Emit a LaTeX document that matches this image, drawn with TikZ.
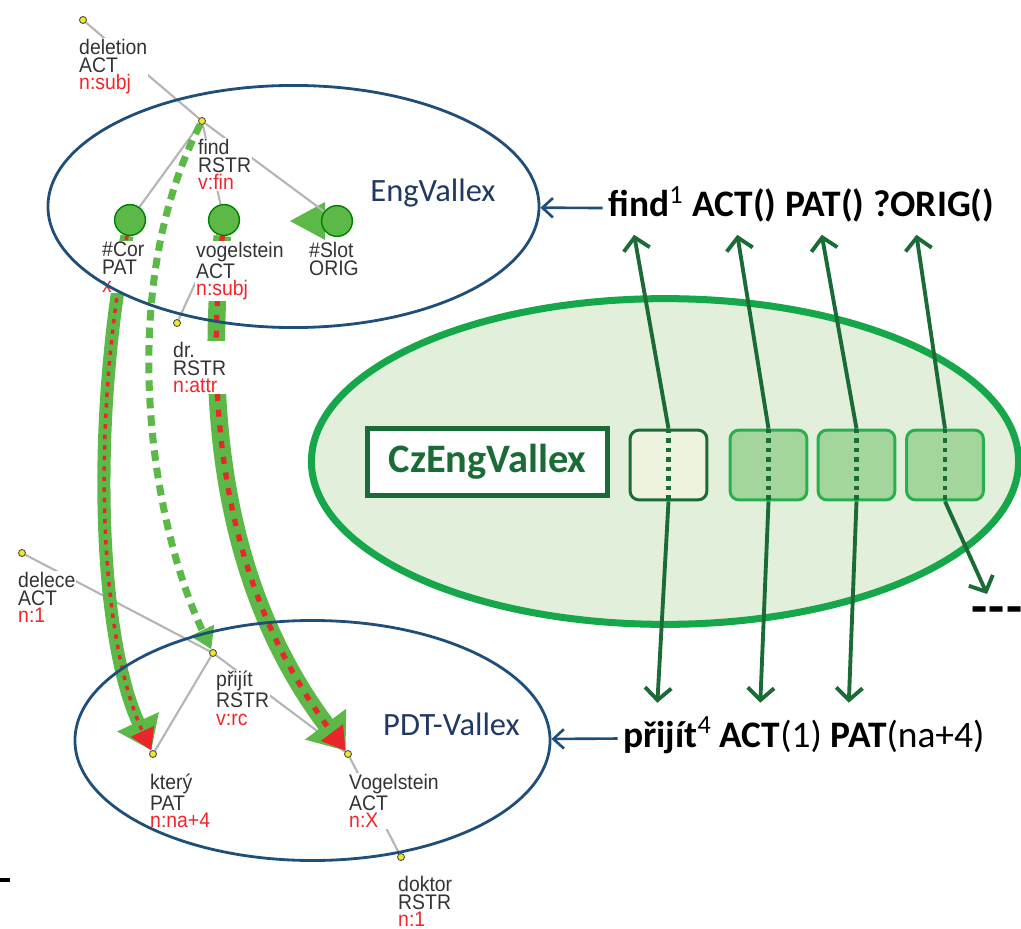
\documentclass[tikz,border=0pt]{standalone}
\usepackage{fontspec}
\newfontfamily\calib{Carlito}
\newfontfamily\treefont[FakeStretch=0.92]{Liberation Sans}
\usetikzlibrary{shapes.geometric,arrows.meta,positioning}

\definecolor{navy}{HTML}{1F4E79}
\definecolor{navytext}{HTML}{1F3864}
\definecolor{flowgreen}{HTML}{5CB947}
\definecolor{flowred}{HTML}{E8262B}
\definecolor{linkgreen}{HTML}{1A6B35}
\definecolor{vgreen}{HTML}{16A74A}
\definecolor{vfill}{HTML}{E2EFDA}
\definecolor{boxfill}{HTML}{A3D59C}
\definecolor{boxedge}{HTML}{28B04F}
\definecolor{paleframe}{HTML}{EEF3E0}
\definecolor{labgray}{HTML}{333333}
\definecolor{labred}{HTML}{F0262B}
\definecolor{dotyellow}{HTML}{F2E62B}
\definecolor{edgegray}{HTML}{B5B5B5}

\pgfdeclarelayer{back}
\pgfdeclarelayer{front}
\pgfsetlayers{back,main,front}

\tikzset{
  tdot/.style={circle, fill=dotyellow, draw=black!70, line width=0.5pt, minimum size=4pt, inner sep=0pt},
  gdot/.style={circle, fill=flowgreen, draw=black!50!green, line width=0.8pt, minimum size=17.5pt, inner sep=0pt},
  tlab/.style={anchor=north west, align=left, inner sep=0.5pt, fill=white, text=labgray, font=\treefont\fontsize{12}{10}\selectfont},
  tedge/.style={draw=edgegray, line width=1.2pt},
  vallex/.style={ellipse, draw=navy, line width=1.6pt, inner sep=0pt},
  vname/.style={anchor=base, text=navytext, font=\calib\fontsize{18.5}{22}\selectfont},
  cword/.style={inner sep=0pt, text height=15pt, text depth=5pt, font=\calib\fontsize{21.3}{24}\selectfont},
  slotbox/.style={rounded corners=5pt, line width=1.7pt, minimum width=43.7pt, minimum height=39.7pt, inner sep=0pt},
  boxdots/.style={draw=linkgreen, line width=2.8pt, dash pattern=on 2.6pt off 2.8pt},
  link/.style={draw=linkgreen, line width=2.2pt, -{Straight Barb[length=7pt,width=15pt]}},
  up/.style={shorten >=5pt},
  down/.style={shorten >=10pt},
  toframe/.style={draw=navy, line width=1.5pt, -{Straight Barb[length=6pt,width=11pt]}, shorten <=3pt}
}

\begin{document}
\begin{tikzpicture}[x=0.02cm, y=-0.02cm]
\useasboundingbox (0,0) rectangle (1021,929);

% tree nodes
\begin{pgfonlayer}{front}
  \node[tdot] (deletion) at (83,20) {};
  \node[tdot] (find) at (202,121) {};
  \node[gdot] (cor) at (130,220) {};
  \node[gdot] (vogelstein) at (224,220) {};
  \node[gdot] (slot) at (337,221) {};
  \node[tdot] (dr) at (177,323) {};
  \node[tdot] (delece) at (22,553) {};
  \node[tdot] (prijit) at (213,653) {};
  \node[tdot] (ktery) at (153,754) {};
  \node[tdot] (Vogelstein) at (348,754) {};
  \node[tdot] (doktor) at (401,857) {};
\end{pgfonlayer}

\begin{pgfonlayer}{back}
  \node[ellipse, draw=vgreen, fill=vfill, line width=4pt, minimum width=402.5pt, minimum height=185.4pt] (czeng) at (665,461.5) {};
  \fill[flowgreen] (325,202) -- (290,221) -- (325,240) -- cycle;
  % tree edges
  \draw[tedge] (deletion) -- (find);
  \draw[tedge] (find) -- (cor);
  \draw[tedge] (find) -- (vogelstein);
  \draw[tedge] (find) -- (slot);
  \draw[tedge] (vogelstein) -- (dr);
  \draw[tedge] (delece) -- (prijit);
  \draw[tedge] (prijit) -- (ktery);
  \draw[tedge] (prijit) -- (Vogelstein);
  \draw[tedge] (Vogelstein) -- (doktor);
  % alignment flows
  \draw[draw=flowgreen, line width=7.5pt, -{Triangle[length=18pt,width=25pt]}] (cor) .. controls (90,430) and (100,640) .. (ktery);
  \draw[draw=flowred, line width=2pt, dash pattern=on 2.5pt off 3.5pt, -{Triangle[length=12pt,width=14pt]}] (cor) .. controls (90,430) and (100,640) .. (ktery);
  \draw[draw=flowgreen, line width=4pt, dash pattern=on 6pt off 4pt, -{Triangle[length=12pt,width=14pt]}] (find) .. controls (115,290) and (150,520) .. (prijit);
  \draw[draw=flowgreen, line width=10pt, -{Triangle[length=19pt,width=28pt]}] (vogelstein) .. controls (200,450) and (240,610) .. (Vogelstein);
  \draw[draw=flowred, line width=3pt, dash pattern=on 4pt off 5pt, -{Triangle[length=13pt,width=15pt]}] (vogelstein) .. controls (200,450) and (240,610) .. (Vogelstein);
\end{pgfonlayer}

% tree labels
\node[tlab] (ldeletion) at (78,38) {deletion\\ACT\\\textcolor{labred}{n:subj}};
\node[tlab] (lfind) at (197,138) {find\\RSTR\\\textcolor{labred}{v:fin}};
\node[tlab] (lcor) at (101,241) {\#Cor\\PAT\\\textcolor{labred}{x}};
\node[tlab] (lvogelstein) at (195,241) {vogelstein\\ACT\\\textcolor{labred}{n:subj}};
\node[tlab] (lslot) at (308,241) {\#Slot\\ORIG};
\node[tlab] (ldr) at (172,341) {dr.\\RSTR\\\textcolor{labred}{n:attr}};
\node[tlab] (ldelece) at (17,571) {delece\\ACT\\\textcolor{labred}{n:1}};
\node[tlab] (lprijit) at (215,670) {přijít\\RSTR\\\textcolor{labred}{v:rc}};
\node[tlab] (lktery) at (149,773) {který\\PAT\\\textcolor{labred}{n:na+4}};
\node[tlab] (lVogelstein) at (348,773) {Vogelstein\\ACT\\\textcolor{labred}{n:X}};
\node[tlab] (ldoktor) at (397,875) {doktor\\RSTR\\\textcolor{labred}{n:1}};

% lexicons
\node[vallex, minimum width=279.5pt, minimum height=137.8pt] (eng) at (293.5,206.5) {};
\node[vname] (engname) at (433,202) {EngVallex};
\node[vallex, minimum width=270.4pt, minimum height=136.6pt] (pdt) at (312.5,740.5) {};
\node[vname] (pdtname) at (451.5,735) {PDT-Vallex};

\node[draw=linkgreen, line width=2.8pt, fill=white, minimum width=136.6pt, minimum height=38.6pt, text=linkgreen, font=\calib\bfseries\fontsize{23}{26}\selectfont] (czname) at (487.5,462) {CzEngVallex};
\node[slotbox, fill=paleframe, draw=linkgreen] (verbbox) at (668.5,465) {};
\node[slotbox, fill=boxfill, draw=boxedge] (actbox) at (768.5,465) {};
\node[slotbox, fill=boxfill, draw=boxedge] (patbox) at (856.5,465) {};
\node[slotbox, fill=boxfill, draw=boxedge] (origbox) at (945,465) {};
\draw[boxdots] (verbbox.north) -- (verbbox.south);
\draw[boxdots] (actbox.north) -- (actbox.south);
\draw[boxdots] (patbox.north) -- (patbox.south);
\draw[boxdots] (origbox.north) -- (origbox.south);

% frames
\node[cword, anchor=base west] (efind) at (608,217) {\textbf{find\textsuperscript{\mdseries 1}}};
\node[cword, base right=4.7pt of efind] (eact) {\textbf{ACT()}};
\node[cword, base right=4.7pt of eact] (epat) {\textbf{PAT()}};
\node[cword, base right=4.7pt of epat] (eorig) {\textbf{?ORIG()}};
\node[cword, anchor=base west] (cprijit) at (623,747) {\textbf{přijít}\textsuperscript{4}};
\node[cword, base right=4pt of cprijit] (cact) {\textbf{ACT}(1)};
\node[cword, base right=4.7pt of cact] (cpat) {\textbf{PAT}(na+4)};
\node[inner sep=0pt, font=\calib\bfseries\fontsize{30}{30}\selectfont] (more) at (997,616) {-\kern1pt-\kern1pt-};

\draw[toframe] (efind) -- (eng);
\draw[toframe] (cprijit) -- (pdt);

\draw[link, up] (verbbox.north) -- ([xshift=14pt]efind.south west);
\draw[link, up] (actbox.north) -- ([xshift=25pt]eact.south west);
\draw[link, up] (patbox.north) -- ([xshift=20pt]epat.south west);
\draw[link, up] (origbox.north) -- ([xshift=24pt]eorig.south west);
\draw[link, down] (verbbox.south) -- ([xshift=19pt]cprijit.north west);
\draw[link, down] (actbox.south) -- ([xshift=23pt]cact.north west);
\draw[link, down] (patbox.south) -- ([xshift=10pt]cpat.north west);
\draw[link, shorten >=8pt] (origbox.south) -- (more);

\draw[line width=1.8pt] (0,880) -- (10,880);
\end{tikzpicture}
\end{document}
